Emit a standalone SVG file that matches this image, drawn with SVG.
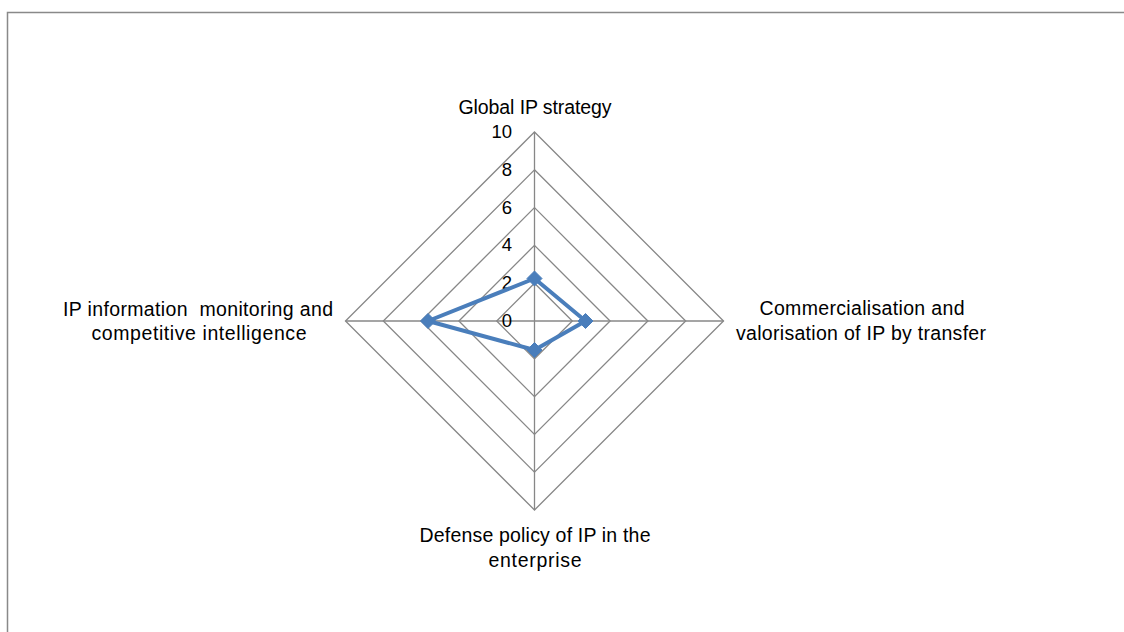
<svg xmlns="http://www.w3.org/2000/svg" width="1124" height="632" viewBox="0 0 1124 632">
<style>
.frame{fill:#fff;stroke:#898989;stroke-width:1.5}
.grid{fill:none;stroke:#878787;stroke-width:1.3}
.series{fill:none;stroke:#4A7EBB;stroke-width:4;stroke-linejoin:round}
.mk{fill:#4A7EBB;stroke:#4A7EBB;stroke-width:1}
text{font-family:"Liberation Sans",Arial,sans-serif;font-size:19.5px;fill:#000;white-space:pre}
.lbl{text-anchor:middle}
.tick{text-anchor:end;font-size:18.5px}
</style>
<defs>
<path id="dm" d="M0,-7.5 L7.5,0 L0,7.5 L-7.5,0 Z"/>
</defs>
<rect class="frame" x="7.5" y="12.5" width="1130" height="640"/>
<g id="grid">
<polygon class="grid" points="534.5,283.2 572.3,321 534.5,358.8 496.7,321"/>
<polygon class="grid" points="534.5,245.4 610.1,321 534.5,396.6 458.9,321"/>
<polygon class="grid" points="534.5,207.6 647.9,321 534.5,434.4 421.1,321"/>
<polygon class="grid" points="534.5,169.8 685.7,321 534.5,472.2 383.3,321"/>
<polygon class="grid" points="534.5,132 723.5,321 534.5,510 345.5,321"/>
<line class="grid" x1="534.5" y1="132" x2="534.5" y2="510"/>
<line class="grid" x1="345.5" y1="321" x2="723.5" y2="321"/>
</g>
<g id="ticks">
<text class="tick" x="512" y="138">10</text>
<text class="tick" x="512" y="176">8</text>
<text class="tick" x="512" y="214">6</text>
<text class="tick" x="512" y="251">4</text>
<text class="tick" x="512" y="289">2</text>
<text class="tick" x="512" y="327">0</text>
</g>
<g id="connectors">
<polygon class="series" points="534.5,278.5 585.5,321 534.5,350 428,321"/>
</g>
<g id="markers">
<use href="#dm" class="mk" x="534.5" y="278.5"/>
<use href="#dm" class="mk" x="585.5" y="321"/>
<use href="#dm" class="mk" x="534.5" y="350"/>
<use href="#dm" class="mk" x="428" y="321"/>
</g>
<g id="node-global">
<text class="lbl" x="535" y="114" textLength="153" lengthAdjust="spacing">Global IP strategy</text>
</g>
<g id="node-commercialisation">
<text class="lbl" x="862" y="315" textLength="205" lengthAdjust="spacing">Commercialisation and</text>
<text class="lbl" x="861" y="340" textLength="250" lengthAdjust="spacing">valorisation of IP by transfer</text>
</g>
<g id="node-defense">
<text class="lbl" x="535" y="542" textLength="231" lengthAdjust="spacing">Defense policy of IP in the</text>
<text class="lbl" x="535" y="567" textLength="93" lengthAdjust="spacing">enterprise</text>
</g>
<g id="node-monitoring">
<text class="lbl" x="198" y="316" textLength="270" lengthAdjust="spacing">IP information  monitoring and</text>
<text class="lbl" x="199" y="340" textLength="215" lengthAdjust="spacing">competitive intelligence</text>
</g>
</svg>
